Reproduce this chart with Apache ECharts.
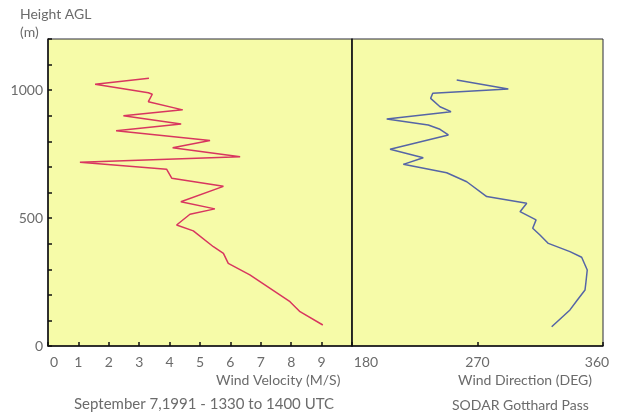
<!DOCTYPE html>
<html>
<head>
<meta charset="utf-8">
<script src="https://cdn.jsdelivr.net/npm/echarts@6/dist/echarts.min.js"></script>
<style>
  html, body { margin: 0; padding: 0; background: #ffffff; }
  #chart { width: 619px; height: 417px; }
</style>
</head>
<body>
<div id="chart"></div>
<script>
// SODAR profile, Gotthard Pass, 7 Sep 1991 1330-1400 UTC
// Heights in metres above ground level

// Wind velocity profile (m/s)
const velocityHeights = [1047, 1023, 990, 984, 955, 923, 900, 868, 841, 803, 775, 740, 718, 691, 656, 624, 564, 536, 515, 473, 450, 388, 362, 323, 278, 173, 134, 82];
const velocityValues  = [3.32, 1.55, 3.30, 3.43, 3.30, 4.43, 2.48, 4.38, 2.24, 5.33, 4.10, 6.32, 1.05, 3.90, 4.07, 5.77, 4.37, 5.49, 4.67, 4.23, 4.78, 5.44, 5.77, 5.93, 6.64, 7.96, 8.29, 9.04];

// Wind direction profile (degrees)
const directionHeights = [1040, 1005, 988, 968, 935, 916, 887, 864, 847, 825, 769, 736, 710, 677, 642, 584, 558, 525, 493, 460, 434, 401, 369, 347, 297, 251, 219, 180, 141, 75];
const directionValues  = [255.1, 292.1, 237.9, 236.4, 243.1, 251.0, 204.9, 234.7, 243.1, 249.1, 207.3, 231.1, 216.8, 247.9, 262.3, 276.6, 305.3, 300.5, 312.0, 309.6, 314.8, 320.8, 336.3, 344.7, 348.7, 347.8, 347.1, 341.6, 336.3, 323.2];

// Axis tick labels
const heightLabels = [0, 500, 1000];
const velocityTicks = [0, 1, 2, 3, 4, 5, 6, 7, 8, 9];
const directionTicks = [180, 270, 360];

const FONT = 'Lato';
const TEXT = '#6b6b6b';
const PANEL = '#f6fba8';
const TICK_SIZE = 14;

const chart = echarts.init(document.getElementById('chart'), null, { renderer: 'canvas' });

function pairs(xs, ys) { return xs.map((x, i) => [x, ys[i]]); }

chart.setOption({
  animation: false,
  backgroundColor: '#ffffff',
  grid: [
    { left: 48, right: 267, top: 39, bottom: 71, show: true, backgroundColor: PANEL, borderColor: '#2a2a3a', borderWidth: 1 },
    { left: 352, right: 16, top: 39, bottom: 71, show: true, backgroundColor: PANEL, borderColor: '#2a2a3a', borderWidth: 1 }
  ],
  xAxis: [
    {
      gridIndex: 0, type: 'value', min: 0, max: 10, interval: 1,
      axisLine: { show: true, lineStyle: { color: '#111', width: 1.5 } },
      axisTick: { show: true, inside: true, length: 4, lineStyle: { color: '#111', width: 1.5 } },
      splitLine: { show: false },
      axisLabel: {
        margin: 9, fontFamily: FONT, fontSize: TICK_SIZE, color: TEXT,
        formatter: v => velocityTicks.indexOf(v) < 0 ? '' : (v === 0 ? '{z|0}' : String(v)),
        rich: { z: { padding: [0, 0, 0, 12], fontFamily: FONT, fontSize: TICK_SIZE, color: TEXT } }
      }
    },
    {
      gridIndex: 1, type: 'value', min: 180, max: 360, interval: 90,
      axisLine: { show: true, lineStyle: { color: '#111', width: 1.5 } },
      axisTick: { show: true, inside: true, length: 4, lineStyle: { color: '#111', width: 1.5 } },
      splitLine: { show: false },
      axisLabel: {
        margin: 9, fontFamily: FONT, fontSize: TICK_SIZE, color: TEXT,
        formatter: v => {
          if (directionTicks.indexOf(v) < 0) return '';
          if (v === 180) return '{a|180}';
          if (v === 360) return '{b|360}';
          return String(v);
        },
        rich: {
          a: { padding: [0, 0, 0, 28], fontFamily: FONT, fontSize: TICK_SIZE, color: TEXT },
          b: { padding: [0, 12, 0, 0], fontFamily: FONT, fontSize: TICK_SIZE, color: TEXT }
        }
      }
    }
  ],
  yAxis: [
    {
      gridIndex: 0, type: 'value', min: 0, max: 1200, interval: 100,
      axisLine: { show: true, lineStyle: { color: '#111', width: 1.5 } },
      axisTick: { show: true, inside: true, length: 4, lineStyle: { color: '#111', width: 1.5 } },
      splitLine: { show: false },
      axisLabel: {
        margin: 5, fontFamily: FONT, fontSize: TICK_SIZE, color: TEXT,
        formatter: v => heightLabels.indexOf(v) < 0 ? '' : String(v)
      }
    },
    {
      gridIndex: 1, type: 'value', min: 0, max: 1200, interval: 100,
      axisLine: { show: true, lineStyle: { color: '#111', width: 1.5 } },
      axisTick: { show: false },
      splitLine: { show: false },
      axisLabel: { show: false }
    }
  ],
  series: [
    {
      type: 'line', xAxisIndex: 0, yAxisIndex: 0,
      data: pairs(velocityValues, velocityHeights),
      showSymbol: false, smooth: false,
      lineStyle: { color: '#d8365f', width: 1.5 }
    },
    {
      type: 'line', xAxisIndex: 1, yAxisIndex: 1,
      data: pairs(directionValues, directionHeights),
      showSymbol: false, smooth: false,
      lineStyle: { color: '#5565a6', width: 1.5 }
    }
  ],
  graphic: [
    { type: 'text', left: 20, top: 7, style: { text: 'Height AGL', font: '14px ' + FONT, fill: TEXT } },
    { type: 'text', left: 20, top: 25, style: { text: '(m)', font: '14px ' + FONT, fill: TEXT } },
    { type: 'text', left: 216, top: 373, style: { text: 'Wind Velocity (M/S)', font: '14px ' + FONT, fill: TEXT } },
    { type: 'text', left: 74, top: 397, style: { text: 'September 7,1991 - 1330 to 1400 UTC', font: '15px ' + FONT, fill: TEXT } },
    { type: 'text', left: 458, top: 373, style: { text: 'Wind Direction (DEG)', font: '14px ' + FONT, fill: TEXT } },
    { type: 'text', left: 452, top: 398, style: { text: 'SODAR Gotthard Pass', font: '14px ' + FONT, fill: TEXT } }
  ]
});
</script>
</body>
</html>
